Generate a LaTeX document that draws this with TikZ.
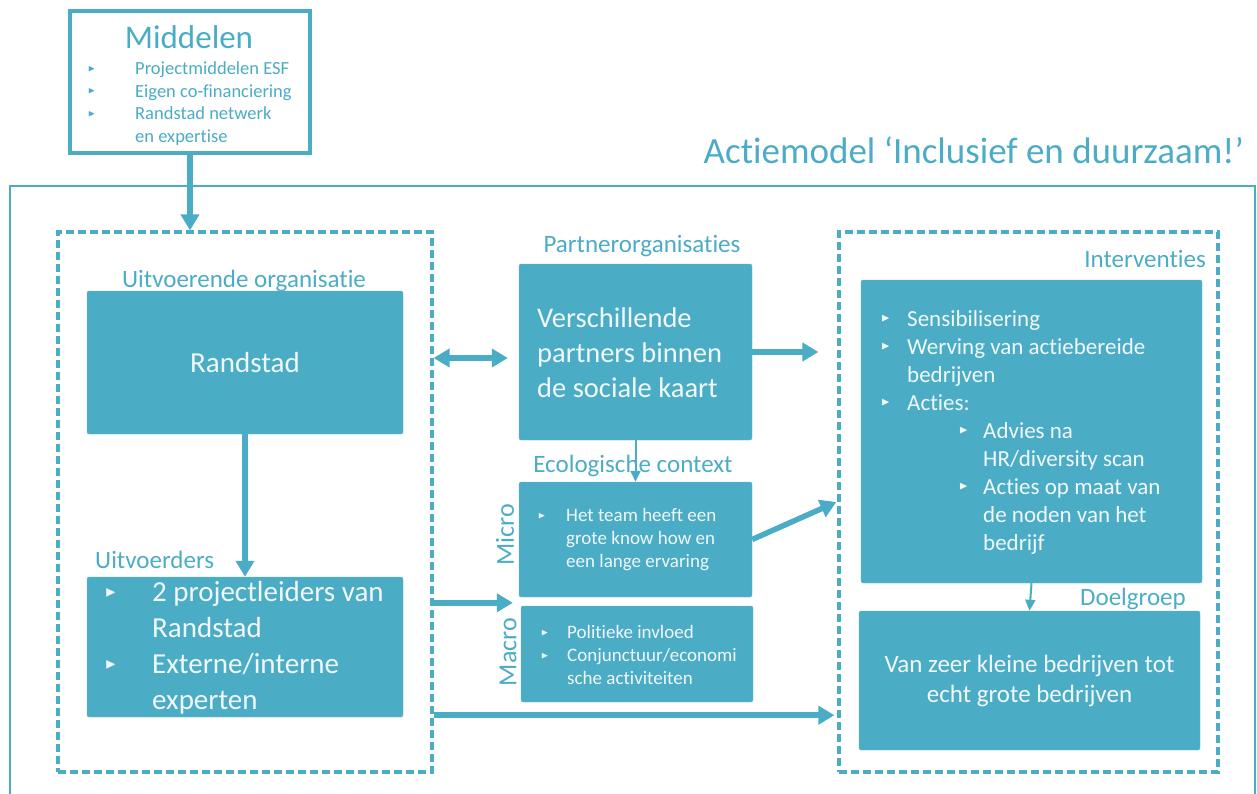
\documentclass[tikz,border=0pt]{standalone}
\usepackage{fontspec}
\setmainfont{Carlito}[Ligatures=NoCommon]
\usepackage{amssymb}
\usetikzlibrary{arrows.meta}

\definecolor{accent}{HTML}{4BACC6}
\colorlet{boxtext}{white!92!accent}
\newcommand{\tri}{\raisebox{0.18em}{\scalebox{0.5}{$\blacktriangleright$}}}
\newcommand{\itm}[1]{\makebox[#1][l]{\tri}}
\newcommand{\fs}[2]{\fontsize{#1}{#2}\selectfont}

\begin{document}
\begin{tikzpicture}[x=1pt, y=-1pt, every node/.style={inner sep=0pt},
    box/.style={fill=accent, draw=accent!85!white, rounded corners=2pt, text=boxtext},
    dashbox/.style={draw=accent, line width=3.2pt, dash pattern=on 8pt off 4pt},
    lbl/.style={text=accent},
    listtext/.style={text=boxtext, align=left, anchor=west},
    bigarrow/.style={draw=accent, line width=5.5pt, >={Triangle[width=18pt,length=16pt]}},
    thinarrow/.style={draw=accent, line width=2pt, -{Triangle[width=10pt,length=11pt]}}]
    \useasboundingbox (0,0) rectangle (1257,794);

    % Middelen
    \node[draw=accent, line width=3.5pt, fill=white, minimum width=240, minimum height=142] (middelen) at (190,82) {};
    \node[lbl, font=\fs{33}{36}] (mtitle) at (189,37) {Middelen};
    \node[lbl, align=left, anchor=west, font=\fs{18.5}{22.5}] (mlist) at (88,103.5)
        {\itm{47pt}Projectmiddelen ESF\\ \itm{47pt}Eigen co-financiering\\ \itm{47pt}Randstad netwerk\\ \hspace*{47pt}en expertise};

    % frame and title
    \draw[accent, line width=1.6pt] (10,800) |- (1255,186) -- (1255,800);
    \node[lbl, anchor=east, font=\fs{37}{40}] (title) at (1244,150) {Actiemodel ‘Inclusief en duurzaam!’};

    % uitvoerende organisatie
    \node[dashbox, minimum width=374, minimum height=540] (uitvoering) at (245,502) {};
    \node[lbl, font=\fs{25}{30}] (orglbl) at (244,281) {Uitvoerende organisatie};
    \node[box, minimum width=316, minimum height=143, font=\fs{29}{32}] (randstad) at (245,362.5) {Randstad};
    \node[lbl, anchor=west, font=\fs{25}{28}] (uitvlbl) at (95,560) {Uitvoerders};
    \node[box, minimum width=316, minimum height=140] (uitvoerders) at (245,647) {};
    \node[listtext, font=\fs{29}{36}] (uitvlist) at (105,648)
        {\itm{47pt}2 projectleiders van\\ \hspace*{47pt}Randstad\\ \itm{47pt}Externe/interne\\ \hspace*{47pt}experten};

    % partners en context
    \node[lbl, font=\fs{25}{28}] (partlbl) at (642,246) {Partnerorganisaties};
    \node[box, minimum width=233, minimum height=176] (partner) at (635.5,352) {};
    \node[listtext, font=\fs{28.5}{35}] (parttext) at (537,353) {Verschillende\\ partners binnen\\ de sociale kaart};
    \node[lbl, font=\fs{25}{28}] (ecolbl) at (633,466) {Ecologische context};
    \node[box, minimum width=233, minimum height=115] (micro) at (635.5,539.5) {};
    \node[listtext, font=\fs{19}{23}] (microtext) at (538,540)
        {\itm{28pt}Het team heeft een\\ \hspace*{28pt}grote know how en\\ \hspace*{28pt}een lange ervaring};
    \node[box, minimum width=232, minimum height=96] (macro) at (637,654) {};
    \node[listtext, font=\fs{19}{23}] (macrotext) at (541,655)
        {\itm{26pt}Politieke invloed\\ \itm{26pt}Conjunctuur/economi\\ \hspace*{26pt}sche activiteiten};
    \node[lbl, rotate=90, font=\fs{26}{28}] (microlbl) at (505,535) {Micro};
    \node[lbl, rotate=90, font=\fs{26}{28}] (macrolbl) at (508,652) {Macro};

    % interventies en doelgroep
    \node[dashbox, minimum width=379, minimum height=540] (interv) at (1028.5,502) {};
    \node[lbl, anchor=east, font=\fs{25}{28}] (intlbl) at (1206,258.5) {Interventies};
    \node[box, minimum width=341, minimum height=303] (interventies) at (1031.5,431.5) {};
    \node[listtext, font=\fs{23}{28}] (inttext) at (881,432)
        {\itm{26pt}Sensibilisering\\ \itm{26pt}Werving van actiebereide\\ \hspace*{26pt}bedrijven\\ \itm{26pt}Acties:\\
         \hspace*{78pt}\itm{24pt}Advies na\\ \hspace*{102pt}HR/diversity scan\\
         \hspace*{78pt}\itm{24pt}Acties op maat van\\ \hspace*{102pt}de noden van het\\ \hspace*{102pt}bedrijf};
    \node[lbl, anchor=east, font=\fs{25}{28}] (doellbl) at (1186,599) {Doelgroep};
    \node[box, minimum width=341, minimum height=139, align=center, font=\fs{25}{30}] (doelgroep) at (1029.5,680.5)
        {Van zeer kleine bedrijven tot\\ echt grote bedrijven};

    % pijlen
    \draw[bigarrow, ->] (middelen.south) -- (middelen.south |- uitvoering.north);
    \draw[bigarrow, ->] (randstad.south) -- (uitvoerders.north);
    \draw[bigarrow, <->] ([yshift=-6]uitvoering.east |- partner.west) -- ([xshift=-11,yshift=-6]partner.west);
    \draw[bigarrow, ->] (partner.east) -- ([xshift=-19]interv.west |- partner.east);
    \draw[thinarrow] (partner.south) -- (micro.north);
    \draw[bigarrow, ->] ([yshift=-26]uitvoering.east |- uitvoerders.north) -- ([xshift=-8,yshift=-26]macro.west |- uitvoerders.north);
    \draw[bigarrow, ->] ([yshift=2]uitvoering.east |- uitvoerders.south) -- ([xshift=-3,yshift=2]interv.west |- uitvoerders.south);
    \draw[bigarrow, ->] (micro.east) -- ([xshift=-1]interv.west);
    \draw[thinarrow] (interventies.south) -- (doelgroep.north);
\end{tikzpicture}
\end{document}
